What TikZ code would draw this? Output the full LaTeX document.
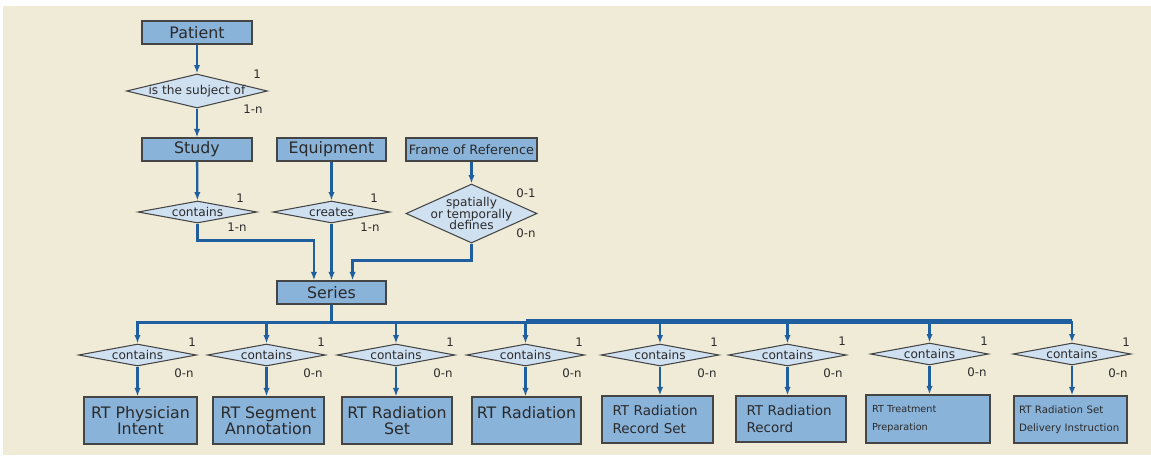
\documentclass[tikz,border=0pt]{standalone}
\usepackage{fontspec}
\setmainfont{DejaVu Sans}
\usepackage{tikz}
\usetikzlibrary{positioning, arrows.meta, calc, shapes.geometric}
\definecolor{paper}{HTML}{F0EBD7}
\definecolor{boxblue}{HTML}{8AB3DA}
\definecolor{relblue}{HTML}{CFE0F1}
\definecolor{lineblue}{HTML}{1F5F9F}
\definecolor{edgegray}{HTML}{454545}
\definecolor{ink}{HTML}{2A2A2A}

\begin{document}
\begin{tikzpicture}[x=0.02cm, y=-0.02cm,
  entity/.style={rectangle, draw=edgegray, fill=boxblue, line width=0.7pt, text=ink, inner sep=1pt, minimum height=0.46cm, font=\fontsize{9}{9.4}\selectfont},
  rel/.style={diamond, draw=edgegray, fill=relblue, line width=0.6pt, inner sep=0pt, minimum width=2.36cm, minimum height=0.44cm},
  rtxt/.style={text=ink, align=center, inner sep=0pt, font=\fontsize{6.9}{6.7}\selectfont},
  card/.style={text=ink, inner sep=0pt, font=\fontsize{6.7}{8}\selectfont},
  link/.style={draw=lineblue, line width=1.3pt, -{Latex[length=4.8pt, width=3.6pt]}}]
\fill[white] (0,0) rectangle (1151,457);
\fill[paper] (3,6) rectangle (1151,455);
\useasboundingbox (0,0) rectangle (1151,457);

% upper part
\node[entity, minimum width=2.2cm] (patient) at (197,32.5) {Patient};
\node[rel, minimum width=2.82cm, minimum height=0.68cm, label={[rtxt]center:is the subject of}] (subject) at (197,91) {};
\node[card] (subject1) at (257,74) {1};
\node[card] (subjectn) at (253,109) {1-n};

\node[entity, minimum width=2.2cm] (study) at (197,149.5) {Study};
\node[entity, minimum width=2.18cm] (equipment) at (331.5,149.5) {Equipment};
\node[entity, minimum width=2.62cm, inner xsep=0pt, font=\fontsize{7.3}{8}\selectfont] (frame) at (471.5,149.5) {Frame of Reference};

\node[rel, minimum width=2.38cm, label={[rtxt]center:contains}] (cstudy) at (197.5,212) {};
\node[card] (cstudy1) at (240,198) {1};
\node[card] (cstudyn) at (237,227) {1-n};
\node[rel, minimum width=2.34cm, label={[rtxt]center:creates}] (creates) at (331.5,212) {};
\node[card] (creates1) at (374,198) {1};
\node[card] (createsn) at (370,227) {1-n};
\node[rel, minimum width=2.62cm, minimum height=1.18cm, label={[rtxt]center:spatially\\or temporally\\defines}] (defines) at (471.5,213.5) {};
\node[card] (defines1) at (526,193) {0-1};
\node[card] (definesn) at (526,233) {0-n};

\node[entity, minimum width=2.18cm] (series) at (331.5,292.5) {Series};

\draw[link] (patient) -- (subject);
\draw[link] (subject) -- (study);
\draw[link] (study) -- (cstudy);
\draw[link] (equipment) -- (creates);
\draw[link] (frame) -- (defines);
\draw[link] (cstudy.south) -- ++(0,17) -| ([xshift=-10pt]series.north);
\draw[link] (creates) -- (series);
\draw[link] (defines.south) -- ++(0,17) -| ([xshift=12pt]series.north);

% lower part
\node[rel, label={[rtxt]center:contains}] (c1) at (137.5,355) {};
\node[card] (c1one) at (192,342) {1};
\node[card] (c1many) at (184,373) {0-n};
\node[rel, label={[rtxt]center:contains}] (c2) at (266.5,355) {};
\node[card] (c2one) at (321,342) {1};
\node[card] (c2many) at (313,373) {0-n};
\node[rel, label={[rtxt]center:contains}] (c3) at (396,355) {};
\node[card] (c3one) at (450,342) {1};
\node[card] (c3many) at (443,373) {0-n};
\node[rel, label={[rtxt]center:contains}] (c4) at (525.5,355) {};
\node[card] (c4one) at (579,342) {1};
\node[card] (c4many) at (572,373) {0-n};
\node[rel, label={[rtxt]center:contains}] (c5) at (660,355) {};
\node[card] (c5one) at (714,342) {1};
\node[card] (c5many) at (707,373) {0-n};
\node[rel, label={[rtxt]center:contains}] (c6) at (787.5,355) {};
\node[card] (c6one) at (842,341) {1};
\node[card] (c6many) at (833,373) {0-n};
\node[rel, label={[rtxt]center:contains}] (c7) at (929.5,354) {};
\node[card] (c7one) at (984,341) {1};
\node[card] (c7many) at (977,372) {0-n};
\node[rel, label={[rtxt]center:contains}] (c8) at (1072,354) {};
\node[card] (c8one) at (1126,342) {1};
\node[card] (c8many) at (1118,373) {0-n};

\node[entity, minimum width=2.26cm, minimum height=0.94cm, align=center] (b1) at (140.5,420.5) {RT Physician\\Intent};
\node[entity, minimum width=2.22cm, minimum height=0.94cm, align=center] (b2) at (268.5,420.5) {RT Segment\\Annotation};
\node[entity, minimum width=2.2cm, minimum height=0.94cm, align=center] (b3) at (397,420.5) {RT Radiation\\Set};
\node[entity, minimum width=2.18cm, minimum height=0.94cm, align=center] (b4) at (526.5,420.5) {RT Radiation\\\phantom{I}};
\node[entity, minimum width=2.22cm, minimum height=0.94cm, inner xsep=6pt, text width=1.8cm, align=left, font=\fontsize{7.7}{10}\selectfont] (b5) at (657.5,419.5) {RT Radiation\\Record Set};
\node[entity, minimum width=2.2cm, minimum height=0.92cm, inner xsep=6pt, text width=1.78cm, align=left, font=\fontsize{7.7}{9.6}\selectfont] (b6) at (791,419) {RT Radiation\\Record};
\node[entity, minimum width=2.48cm, minimum height=0.96cm, inner xsep=3.4pt, text width=2.24cm, align=left, font=\fontsize{5.5}{10}\selectfont] (b7) at (928,419) {RT Treatment\\Preparation};
\node[entity, minimum width=2.26cm, minimum height=0.94cm, inner xsep=2.8pt, text width=2.06cm, align=left, font=\fontsize{5.8}{10}\selectfont] (b8) at (1070.5,419.5) {RT Radiation Set\\Delivery Instruction};

\draw[link] (series.south) -- ++(0,18) -| (c1.north);
\draw[link] (series.south) -- ++(0,18) -| (c2.north);
\draw[link] (series.south) -- ++(0,18) -| (c3.north);
\draw[link] (series.south) -- ++(0,18) -| (c4.north);
\draw[link] (series.south) -- ++(0,18) -| (c5.north);
\draw[link] (series.south) -- ++(0,18) -| (c6.north);
\draw[link] (series.south) -- ++(0,18) -| (c7.north);
\draw[link] (series.south) -- ++(0,18) -| (c8.north);
\draw[link, -] ($(c4.north)+(0,-23)$) -- ($(c8.north)+(0,-22)$);

\draw[link] (c1.south) -- (c1.south |- b1.north);
\draw[link] (c2.south) -- (c2.south |- b2.north);
\draw[link] (c3.south) -- (c3.south |- b3.north);
\draw[link] (c4.south) -- (c4.south |- b4.north);
\draw[link] (c5.south) -- (c5.south |- b5.north);
\draw[link] (c6.south) -- (c6.south |- b6.north);
\draw[link] (c7.south) -- (c7.south |- b7.north);
\draw[link] (c8.south) -- (c8.south |- b8.north);
\end{tikzpicture}
\end{document}
